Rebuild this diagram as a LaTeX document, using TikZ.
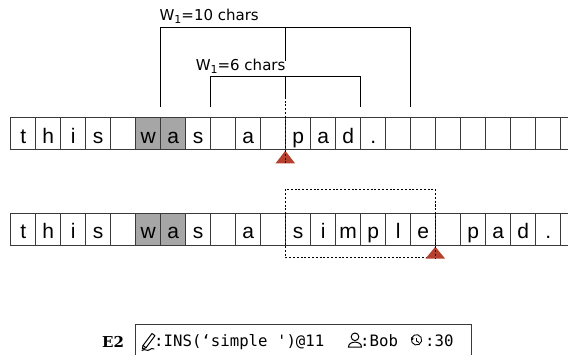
\documentclass[tikz,border=0pt]{standalone}
\usepackage{fontspec}
\setmainfont{Liberation Sans}
\newfontfamily\lblfont{DejaVu Sans}
\newfontfamily\monofont{DejaVu Sans Mono}
\newfontfamily\boldser{DejaVu Serif Bold}
\usetikzlibrary{arrows.meta,calc}
\definecolor{tri}{HTML}{B5402F}
\definecolor{cellgray}{HTML}{A6A6A6}
\definecolor{celledge}{HTML}{3A3A3A}
\tikzset{
  cellbox/.style={draw=celledge, line width=0.8pt, minimum width=25pt, minimum height=32pt, inner sep=0pt, text height=20pt, text depth=0pt, anchor=north west, font=\fontsize{21}{21}\selectfont},
  graycell/.style={cellbox, fill=cellgray},
  brk/.style={line width=1.4pt, black},
  dsh/.style={line width=1.1pt, black, dash pattern=on 2pt off 1.8pt},
  cursor/.style={fill=tri, draw=none},
  lbl/.style={font=\lblfont\fontsize{15}{15}\selectfont, inner sep=0pt, anchor=west},
  mono/.style={font=\monofont\fontsize{15.7}{16}\selectfont, inner sep=0pt, anchor=base west},
}
\begin{document}
\begin{tikzpicture}[x=1pt, y=-1pt]
\useasboundingbox (0,0) rectangle (568,354);
% row 1
\foreach \c [count=\k from 0] in {t,h,i,s,{},w,a,s,{},a,{},p,a,d,.,{},{},{},{},{},{},{},{}} {
  \pgfmathsetmacro{\xx}{10.3+25*\k}
  \ifnum\k=5 \node[graycell] (r1c\k) at (\xx,117.3) {\c};
  \else\ifnum\k=6 \node[graycell] (r1c\k) at (\xx,117.3) {\c};
  \else \node[cellbox] (r1c\k) at (\xx,117.3) {\c};\fi\fi
}
% row 2
\foreach \c [count=\k from 0] in {t,h,i,s,{},w,a,s,{},a,{},s,i,m,p,l,e,{},p,a,d,.,{}} {
  \pgfmathsetmacro{\xx}{10.3+25*\k}
  \ifnum\k=5 \node[graycell] (r2c\k) at (\xx,212.5) {\c};
  \else\ifnum\k=6 \node[graycell] (r2c\k) at (\xx,212.5) {\c};
  \else \node[cellbox] (r2c\k) at (\xx,212.5) {\c};\fi\fi
}
% labels
\node[lbl] (w10) at (159.4,16.7) {W\raisebox{-3pt}{\fontsize{11}{11}\selectfont 1}=10 chars};
\node[lbl] (w6) at (195.6,66) {W\raisebox{-3pt}{\fontsize{11}{11}\selectfont 1}=6 chars};
% bracket coordinates
\coordinate (b10l) at (160.3,107.3);
\coordinate (b10r) at (410.3,107.3);
\coordinate (b10c) at (285.3,27.3);
\coordinate (b10s) at (285.3,61);
\coordinate (b6l) at (210.3,107.3);
\coordinate (b6r) at (360.3,107.3);
\coordinate (b6c) at (285.3,76.3);
\coordinate (b6s) at (285.3,96.7);
\coordinate (cur1) at (285.3,150.7);
\coordinate (cur2) at (435.3,246.7);
% brackets
\draw[brk] (b10l) |- (b10c) -| (b10r);
\draw[brk] (b10c) -- (b10s);
\draw[brk] (b6l) |- (b6c) -| (b6r);
\draw[brk] (b6c) -- (b6s);
% cursor 1
\fill[cursor] (cur1) -- ++(9.7,12.6) -- ++(-19.4,0) -- cycle;
\draw[dsh] (b6s) -- ($(cur1)+(0,12)$);
% dashed box row 2
\coordinate (db1) at (285.3,189.3);
\coordinate (db2) at (435.3,257.7);
\draw[dsh] (db1) rectangle (db2);
\fill[cursor] (cur2) -- ++(9.7,11.8) -- ++(-19.4,0) -- cycle;
\draw[dsh] (435.3,189.3) -- ($(cur2)+(0,11.8)$);
% bottom
\node[font=\boldser\fontsize{15}{15}\selectfont, inner sep=0pt, anchor=base west] (e2) at (102,347) {E2};
\draw[line width=0.8pt, celledge] (135.3,362) |- (471.7,324.3) -- (471.7,362);
% pencil icon
\begin{scope}[line width=1pt, line cap=round, line join=round]
  \draw (143,345.5) -- (152,333.5) -- (155,335.7) -- (146,347.7) -- cycle;
  \draw (143,345.5) -- (142.3,349) -- (146,347.7);
  \draw (142,350.5) .. controls (145,348) and (147,352) .. (150,349.5) .. controls (151.5,348.3) .. (154,349);
\end{scope}
\node[mono] (ins) at (154,346.7) {:INS(‘simple ')@11};
% person icon
\begin{scope}[line width=1pt]
  \draw (355,336.8) circle (3.8);
  \draw (348.5,347) .. controls (348.5,340.5) and (361.5,340.5) .. (361.5,347) -- cycle;
\end{scope}
\node[mono] (bob) at (360,346.7) {:Bob};
% clock icon
\begin{scope}[line width=0.9pt]
  \draw (411.5,338.5) arc (195:-155:5.2);
  \draw[-{Stealth[length=3pt,width=3.5pt]}] (413,337.5) -- (411.3,340.3);
  \draw (416.5,338) -- (416.5,341) -- (419,342.5);
\end{scope}
\node[mono] (t30) at (425,346.7) {:30};
\end{tikzpicture}
\end{document}
